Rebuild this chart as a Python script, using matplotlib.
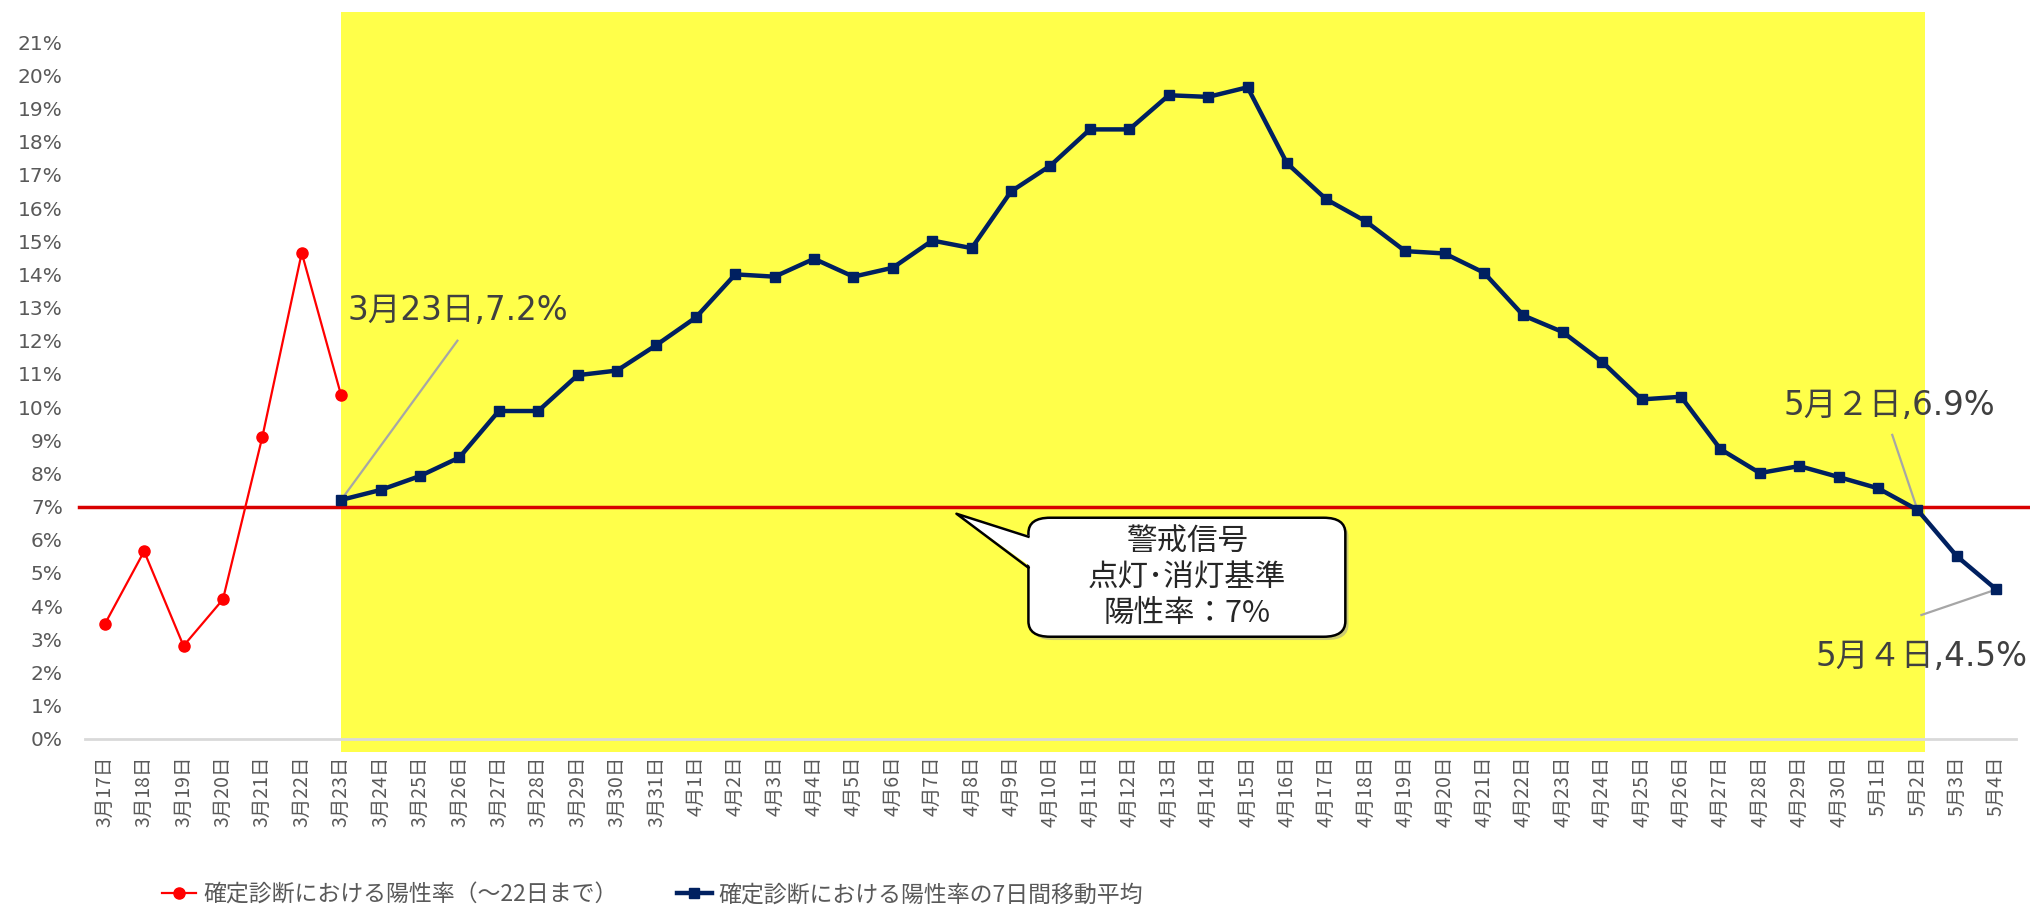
import matplotlib
matplotlib.use("Agg")
import matplotlib.pyplot as plt
from matplotlib.patches import FancyBboxPatch, Polygon
from matplotlib.lines import Line2D

# x categories: 3/17 .. 5/4
date_labels = ([f"3月{d}日" for d in range(17, 32)]
               + [f"4月{d}日" for d in range(1, 31)]
               + [f"5月{d}日" for d in range(1, 5)])

# daily positive rate (3/17 - 3/23), %
daily_rate = [3.45, 5.65, 2.8, 4.2, 9.1, 14.65, 10.35]

# 7-day moving average (3/23 - 5/4), %
avg_start = 6
avg_rate = [7.2, 7.5, 7.92, 8.48, 9.88, 9.88, 10.96, 11.1, 11.87,
            12.7, 14.0, 13.93, 14.47, 13.93, 14.2, 15.02, 14.79, 16.5, 17.28,
            18.37, 18.37, 19.4, 19.35, 19.64, 17.35, 16.26, 15.6, 14.7, 14.63,
            14.05, 12.76, 12.26, 11.36, 10.23, 10.31, 8.73, 8.01, 8.22, 7.89,
            7.55, 6.9, 5.5, 4.5]

threshold = 7
y_ticks = list(range(0, 22))
alert_span = (6, 46.2)  # 3/23 .. 5/2

CJK = ["Noto Sans CJK JP", "DejaVu Sans"]
WIDE = ["DejaVu Sans", "Noto Sans CJK JP"]
plt.rcParams["font.family"] = CJK

fig = plt.figure(figsize=(20.31, 9.09), dpi=100)
ax = fig.add_axes([85 / 2031, 157 / 909, 1931 / 2031, 743 / 909])

x_all = list(range(len(date_labels)))
x_daily = x_all[:len(daily_rate)]
x_avg = x_all[avg_start:avg_start + len(avg_rate)]

ax.set_xlim(-0.5, len(date_labels) - 0.5)
ax.set_ylim(-0.4, 22)

ax.axvspan(alert_span[0], alert_span[1], ymin=0, ymax=(21.9 + 0.4) / 22.4,
           color="#ffff4a", zorder=0, lw=0)

ax.plot([-0.66, 48.8], [threshold, threshold], color="#d80000", lw=2.5,
        clip_on=False, zorder=2)

ax.plot(x_daily, daily_rate, color="#ff0000", lw=1.6, marker="o", ms=8,
        zorder=3)
ax.plot(x_avg, avg_rate, color="#002060", lw=3.2, marker="s", ms=7, zorder=4)

for s in ["top", "right", "left"]:
    ax.spines[s].set_visible(False)
ax.spines["bottom"].set_position(("data", 0))
ax.spines["bottom"].set_color("#d9d9d9")
ax.spines["bottom"].set_linewidth(2)

ax.set_yticks(y_ticks)
ax.set_yticklabels([f"{v}%" for v in y_ticks], fontsize=14.5, color="#595959",
                   family=WIDE)
ax.tick_params(axis="y", length=0, pad=16)
ax.set_xticks(x_all)
ax.set_xticklabels(date_labels, rotation=90, fontsize=14, color="#595959")
ax.tick_params(axis="x", length=0, pad=12)

# data labels with leader lines
lead = "#a6a6a6"
labels = [
    (avg_start, avg_rate[0], 8.95, 12.0, 6.16, 12.9, "3月23日,7.2%"),
    (46, avg_rate[40], 45.36, 9.16, 42.6, 10.06, "5月２日,6.9%"),
    (48, avg_rate[42], 46.1, 3.73, 43.4, 2.47, "5月４日,4.5%"),
]
for px, py, lx, ly, tx, ty, txt in labels:
    ax.plot([px, lx], [py, ly], color=lead, lw=1.6, zorder=3, clip_on=False)
    ax.text(tx, ty, txt, fontsize=23.5, color="#404040", family=WIDE,
            ha="left", va="center", clip_on=False, zorder=5)

# callout bubble
bx0, bx1 = (1028 - 104) / 39.42, (1345 - 104) / 39.42
by0, by1 = (739 - 637) / 33.17, (739 - 518) / 33.17
shadow = FancyBboxPatch((bx0 + 0.08, by0 - 0.1), bx1 - bx0, by1 - by0,
                        boxstyle="round,pad=0,rounding_size=0.55",
                        mutation_aspect=1 / 1.19, fc="#9a9a9a", ec="none",
                        alpha=0.5, zorder=5)
ax.add_patch(shadow)
box = FancyBboxPatch((bx0, by0), bx1 - bx0, by1 - by0,
                     boxstyle="round,pad=0,rounding_size=0.55",
                     mutation_aspect=1 / 1.19, fc="white", ec="black", lw=1.8,
                     zorder=6)
ax.add_patch(box)
tip = ((956 - 104) / 39.42, (739 - 514) / 33.17)
base_hi = (bx0, (739 - 537) / 33.17)
base_lo = (bx0, (739 - 568) / 33.17)
ax.add_patch(Polygon([tip, (bx0 + 0.1, base_hi[1]), (bx0 + 0.1, base_lo[1])],
                     closed=True, fc="white", ec="none", zorder=7))
ax.plot([base_hi[0], tip[0], base_lo[0]], [base_hi[1], tip[1], base_lo[1]],
        color="black", lw=1.8, zorder=7)
ax.text((bx0 + bx1) / 2, (by0 + by1) / 2,
        "警戒信号\n点灯･消灯基準\n陽性率：7%", fontsize=22, color="#262626",
        ha="center", va="center", linespacing=1.2, zorder=8)

# legend
handles = [
    Line2D([], [], color="#ff0000", lw=1.6, marker="o", ms=8),
    Line2D([], [], color="#002060", lw=3.2, marker="s", ms=7),
]
fig.legend(handles, ["確定診断における陽性率（〜22日まで）",
                     "確定診断における陽性率の7日間移動平均"],
           loc="center left", bbox_to_anchor=(162 / 2031, 14 / 909),
           ncol=2, frameon=False, fontsize=16.5, labelcolor="#595959",
           handlelength=1.5, handletextpad=0.3, columnspacing=2.6,
           borderpad=0, borderaxespad=0)

fig.savefig("out.png", dpi=100)
